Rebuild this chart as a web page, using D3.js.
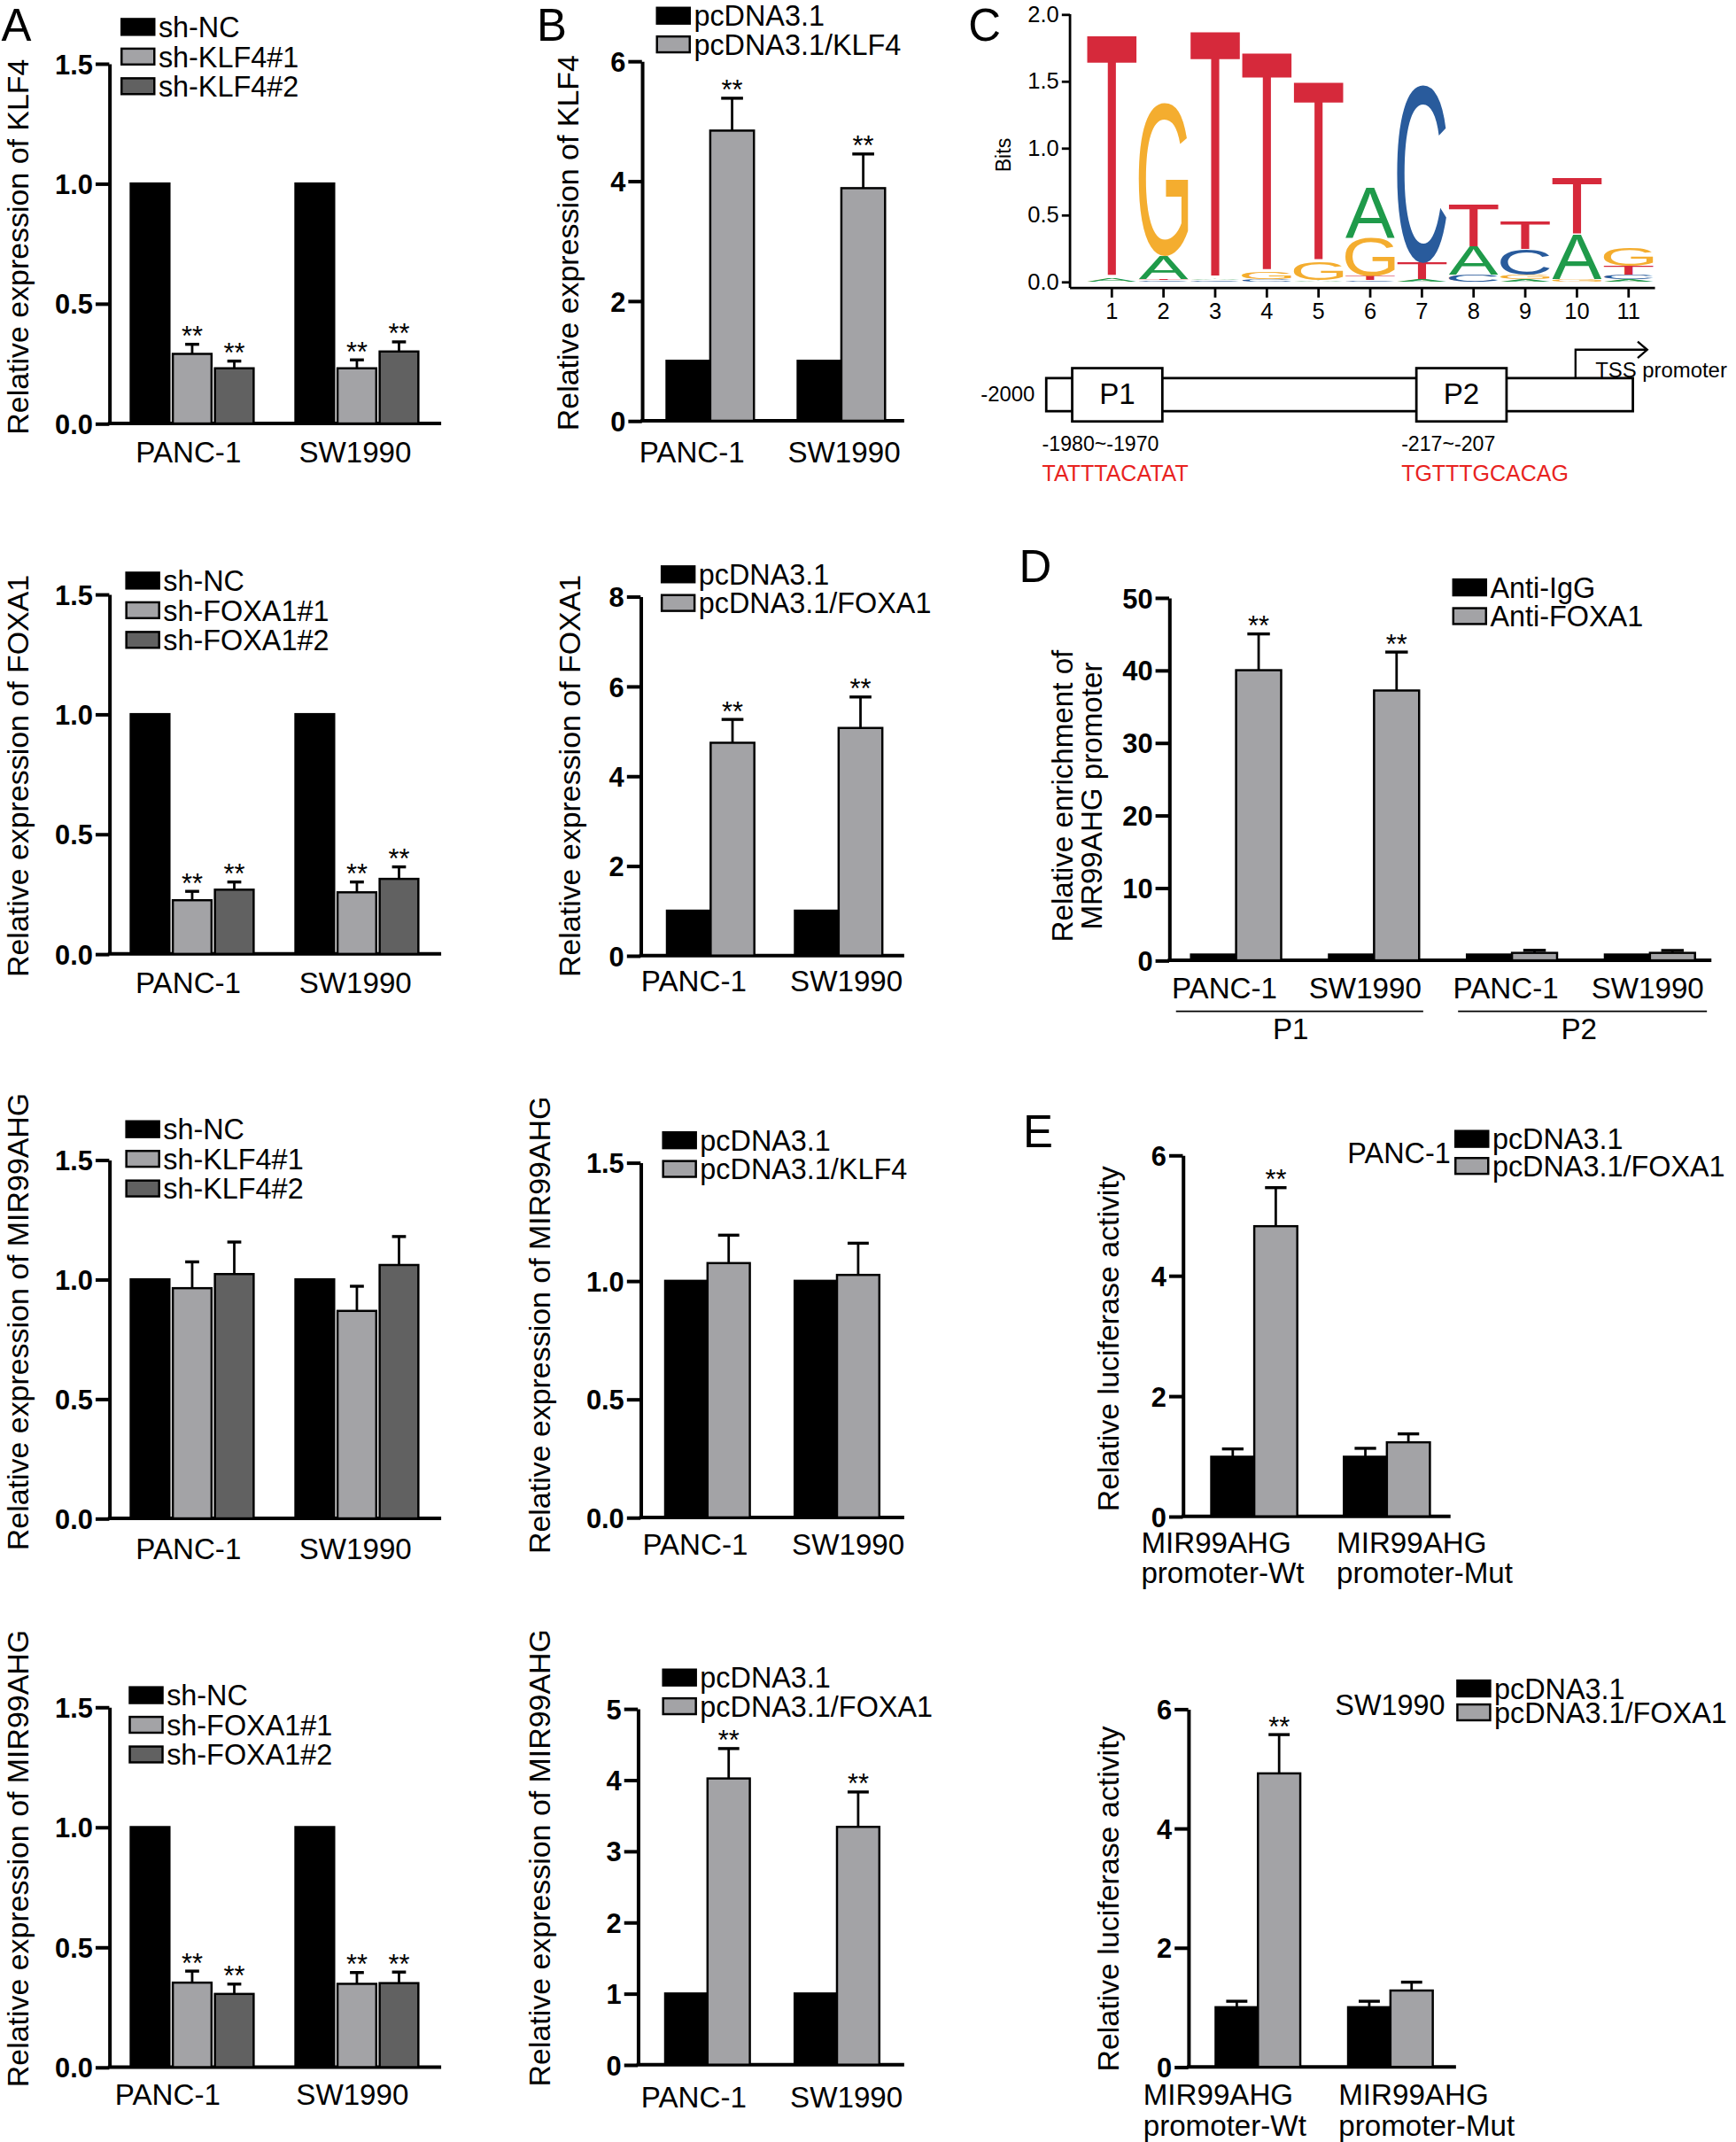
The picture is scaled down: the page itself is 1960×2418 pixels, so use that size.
<!DOCTYPE html>
<html><head><meta charset="utf-8">
<script src="https://cdn.jsdelivr.net/npm/d3@7"></script>
<style>body{margin:0;background:#fff}svg{display:block}</style>
</head><body><svg id="fig"></svg>
<script>
// ---------------- DATA ----------------
const cellLines = ["PANC-1", "SW1990"];
const seriesShKLF4 = ["sh-NC", "sh-KLF4#1", "sh-KLF4#2"];
const seriesShFOXA1 = ["sh-NC", "sh-FOXA1#1", "sh-FOXA1#2"];
const seriesOeKLF4 = ["pcDNA3.1", "pcDNA3.1/KLF4"];
const seriesOeFOXA1 = ["pcDNA3.1", "pcDNA3.1/FOXA1"];

const klf4ShVals = [[1, 0.29, 0.23], [1, 0.23, 0.30]];
const klf4ShErr  = [[0, 0.04, 0.03], [0, 0.035, 0.04]];
const klf4OeVals = [[1, 4.84], [1, 3.88]];
const klf4OeErr  = [[0, 0.54], [0, 0.57]];
const foxa1ShVals = [[1, 0.224, 0.268], [1, 0.257, 0.313]];
const foxa1ShErr  = [[0, 0.037, 0.032], [0, 0.043, 0.05]];
const foxa1OeVals = [[1, 4.74], [1, 5.07]];
const foxa1OeErr  = [[0, 0.52], [0, 0.69]];
const mirShKLF4Vals = [[1, 0.963, 1.022], [1, 0.868, 1.06]];
const mirShKLF4Err  = [[0, 0.11, 0.134], [0, 0.103, 0.119]];
const mirOeKLF4Vals = [[1, 1.075], [1, 1.025]];
const mirOeKLF4Err  = [[0, 0.118], [0, 0.134]];
const mirShFOXA1Vals = [[1, 0.352, 0.305], [1, 0.347, 0.35]];
const mirShFOXA1Err  = [[0, 0.048, 0.041], [0, 0.047, 0.046]];
const mirOeFOXA1Vals = [[1, 4.02], [1, 3.34]];
const mirOeFOXA1Err  = [[0, 0.42], [0, 0.49]];

const starsSh = [[false, true, true], [false, true, true]];
const starsOe = [[false, true], [false, true]];
const starsNone3 = [[false, false, false], [false, false, false]];
const starsNone2 = [[false, false], [false, false]];

const ticks15 = [0, 0.5, 1.0, 1.5];
const ticks6 = [0, 2, 4, 6];
const ticks8 = [0, 2, 4, 6, 8];
const ticks5 = [0, 1, 2, 3, 4, 5];
const ticks50 = [0, 10, 20, 30, 40, 50];

// ChIP (panel D)
const chipCells = ["PANC-1", "SW1990", "PANC-1", "SW1990"];
const chipRegions = ["P1", "P2"];
const chipSeries = ["Anti-IgG", "Anti-FOXA1"];
const chipVals = [[0.8, 40.0], [0.8, 37.2], [0.8, 1.03], [0.8, 1.03]];
const chipErr  = [[0, 5.0], [0, 5.3], [0, 0.35], [0, 0.33]];
const chipStars = [[false, true], [false, true], [false, false], [false, false]];

// Luciferase (panel E)
const lucGroups = [["MIR99AHG", "promoter-Wt"], ["MIR99AHG", "promoter-Mut"]];
const lucSeries = ["pcDNA3.1", "pcDNA3.1/FOXA1"];
const lucPancVals = [[0.99, 4.82], [0.99, 1.23]];
const lucPancErr  = [[0.13, 0.64], [0.14, 0.14]];
const lucSwVals = [[1.0, 4.92], [1.0, 1.28]];
const lucSwErr  = [[0.1, 0.65], [0.1, 0.14]];
const lucStars = [[false, true], [false, false]];

// Sequence logo (panel C): bottom-to-top stacks [letter, bits]
const logoPositions = ["1","2","3","4","5","6","7","8","9","10","11"];
const logoStacks = [
  [["A", 0.025], ["T", 1.815]],
  [["C", 0.01], ["T", 0.01], ["A", 0.17], ["G", 1.14]],
  [["C", 0.01], ["A", 0.01], ["T", 1.85]],
  [["C", 0.02], ["G", 0.05], ["T", 1.64]],
  [["A", 0.01], ["G", 0.14], ["T", 1.34]],
  [["C", 0.01], ["T", 0.03], ["G", 0.29], ["A", 0.37]],
  [["A", 0.015], ["T", 0.125], ["C", 1.33]],
  [["C", 0.05], ["A", 0.21], ["T", 0.32]],
  [["A", 0.02], ["G", 0.03], ["C", 0.19], ["T", 0.21]],
  [["G", 0.02], ["A", 0.33], ["T", 0.42]],
  [["A", 0.02], ["C", 0.03], ["T", 0.07], ["G", 0.14]]
];
const logoTicks = [0, 0.5, 1.0, 1.5, 2.0];
const promoterSites = [
  {name: "P1", start: -1980, range: "-1980~-1970", seq: "TATTTACATAT"},
  {name: "P2", start: -217, range: "-217~-207", seq: "TGTTTGCACAG"}
];

// ---------------- STYLE ----------------
const FONT = "'Liberation Sans', Arial, Helvetica, sans-serif";
const C_BLACK = "#000", C_LIGHT = "#a3a3a6", C_DARK = "#616161";
const logoColors = {A: "#1f9a4a", C: "#295b9c", G: "#f4ad2f", T: "#d6293b"};
const AX_W = 2.6;

const svg = d3.select("#fig")
  .attr("width", 1960).attr("height", 2418)
  .attr("viewBox", "0 0 1271 1568")
  .style("font-family", FONT);
svg.append("rect").attr("width", 1271).attr("height", 1568).attr("fill", "#fff");

function txt(g, x, y, s, size, opt = {}) {
  const t = g.append("text").attr("x", x).attr("y", y).text(s)
    .attr("font-size", size).attr("fill", opt.fill || "#000")
    .attr("text-anchor", opt.anchor || "start");
  if (opt.bold) t.attr("font-weight", "bold");
  if (opt.rotate) t.attr("transform", `rotate(-90,${x},${y})`);
  return t;
}

function barPanel(o) {
  const g = svg.append("g");
  const nG = o.vals.length, nS = o.vals[0].length;
  const y = d3.scaleLinear().domain([0, o.max]).range([o.y0, o.yTop]);
  const xc = d3.scalePoint().domain(d3.range(nG)).range(o.centers);
  const xi = d3.scaleBand().domain(d3.range(nS)).range([-o.gw / 2, o.gw / 2]).paddingInner(o.pad || 0);
  const bw = xi.bandwidth();
  const colors = o.colors;
  const capHalf = bw * (o.capFrac || 0.5) / 2;

  // y axis
  const ax = g.append("g").attr("transform", `translate(${o.axisX},0)`)
    .call(d3.axisLeft(y).tickValues(o.ticks).tickSize(10).tickSizeOuter(0).tickPadding(2).tickFormat(o.fmt));
  ax.select(".domain").attr("stroke-width", AX_W);
  ax.selectAll(".tick line").attr("stroke-width", AX_W);
  ax.selectAll(".tick text").attr("font-size", 20).attr("font-weight", "bold").attr("font-family", FONT)
    .attr("fill", "#000").attr("dy", "0.36em");
  // x baseline
  g.append("line").attr("x1", o.axisX - 1).attr("x2", o.xEnd).attr("y1", o.y0).attr("y2", o.y0)
    .attr("stroke", "#000").attr("stroke-width", AX_W);

  // bars
  const flat = [];
  o.vals.forEach((row, gi) => row.forEach((v, si) => flat.push({gi, si, v, e: o.errs[gi][si], s: o.stars[gi][si]})));
  const cx = d => xc(d.gi) + xi(d.si) + bw / 2;
  g.selectAll("rect.bar").data(flat).join("rect").attr("class", "bar")
    .attr("x", d => xc(d.gi) + xi(d.si)).attr("width", bw)
    .attr("y", d => y(d.v)).attr("height", d => y(0) - y(d.v))
    .attr("fill", d => colors[d.si]).attr("stroke", "#000").attr("stroke-width", 1.6);
  // error bars (upper only)
  const eb = flat.filter(d => d.e > 0);
  g.selectAll("line.eb").data(eb).join("line").attr("class", "eb")
    .attr("x1", cx).attr("x2", cx)
    .attr("y1", d => y(d.v)).attr("y2", d => y(d.v + d.e)).attr("stroke", "#000").attr("stroke-width", 1.8);
  g.selectAll("line.cap").data(eb).join("line").attr("class", "cap")
    .attr("x1", d => cx(d) - capHalf).attr("x2", d => cx(d) + capHalf)
    .attr("y1", d => y(d.v + d.e)).attr("y2", d => y(d.v + d.e)).attr("stroke", "#000").attr("stroke-width", 2.2);
  g.selectAll("text.star").data(flat.filter(d => d.s)).join("text").attr("class", "star")
    .attr("x", cx).attr("y", d => y(d.v + d.e) + 1)
    .attr("text-anchor", "middle").attr("font-size", 20).text("**");

  // category labels
  o.labels.forEach((lab, gi) => {
    const lines = Array.isArray(lab) ? lab : [lab];
    lines.forEach((s, li) => {
      txt(g, o.labelX[gi], o.labelY + li * (o.labelLH || 22), s, 21.5, {anchor: o.labelAnchor || "middle"});
    });
  });

  // legend
  o.series.forEach((s, si) => {
    const cy = o.legY + si * o.legRH;
    g.append("rect").attr("x", o.legX).attr("y", cy - 5.8).attr("width", o.legW || 24).attr("height", 11.6)
      .attr("fill", colors[si]).attr("stroke", "#000").attr("stroke-width", 1.6);
    txt(g, o.legX + (o.legW || 24) + 3, cy + 7.6, s, 21);
  });

  // y title
  const tl = Array.isArray(o.title) ? o.title : [o.title];
  tl.forEach((s, i) => txt(g, o.titleX + i * 22, o.titleY, s, o.titleSize || 22, {anchor: "middle", rotate: true}));
  return {g, y, xc, xi};
}

const f1 = d3.format(".1f"), f0 = d3.format("d");
const col3 = [C_BLACK, C_LIGHT, C_DARK], col2 = [C_BLACK, C_LIGHT];

// Panel letters
txt(svg, 1, 30, "A", 33);
txt(svg, 393, 30, "B", 33);
txt(svg, 709, 30, "C", 33);
txt(svg, 746, 426, "D", 33);
txt(svg, 749, 840, "E", 33);

// ---- A column ----
const aBase = {axisX: 80, xEnd: 323, max: 1.5, ticks: ticks15, fmt: f1, gw: 90, pad: 0.08, capFrac: 0.36,
  colors: col3, labels: cellLines, legRH: 21.7, titleX: 20.5, centers: [140.7, 261.3]};
barPanel({...aBase, yTop: 46.5, y0: 310, vals: klf4ShVals, errs: klf4ShErr, stars: starsSh,
  series: seriesShKLF4, legX: 89, legY: 19.7, labelX: [138, 260], labelY: 338.7,
  title: "Relative expression of KLF4", titleY: 180.7});
barPanel({...aBase, yTop: 435, y0: 698.3, vals: foxa1ShVals, errs: foxa1ShErr, stars: starsSh,
  series: seriesShFOXA1, legX: 92.5, legY: 425, labelX: [137.8, 260.2], labelY: 726.7,
  title: "Relative expression of FOXA1", titleY: 568});
barPanel({...aBase, yTop: 849, y0: 1111.5, vals: mirShKLF4Vals, errs: mirShKLF4Err, stars: starsNone3,
  series: seriesShKLF4, legX: 92.5, legY: 826.6, labelX: [138, 260.2], labelY: 1141,
  title: "Relative expression of MIR99AHG", titleY: 967.5});
barPanel({...aBase, yTop: 1249.6, y0: 1513.2, vals: mirShFOXA1Vals, errs: mirShFOXA1Err, stars: starsSh,
  series: seriesShFOXA1, legX: 95, legY: 1240.9, labelX: [122.8, 258], labelY: 1540.5,
  title: "Relative expression of MIR99AHG", titleY: 1360.5});

// ---- B column ----
const bBase = {fmt: f0, pad: 0, colors: col2, labels: cellLines, legRH: 21, xEnd: 662};
barPanel({...bBase, axisX: 470, max: 6, yTop: 44.7, y0: 308, ticks: ticks6, centers: [520, 616], gw: 64,
  vals: klf4OeVals, errs: klf4OeErr, stars: starsOe, series: seriesOeKLF4, legX: 481, legY: 11.5,
  labelX: [506.6, 618], labelY: 338.7, title: "Relative expression of KLF4", titleX: 423.7, titleY: 177.8});
barPanel({...bBase, axisX: 469, max: 8, yTop: 436.6, y0: 699.5, ticks: ticks8, centers: [520.3, 614], gw: 64,
  vals: foxa1OeVals, errs: foxa1OeErr, stars: starsOe, series: seriesOeFOXA1, legX: 484.5, legY: 420.4,
  labelX: [508, 619.7], labelY: 725.7, title: "Relative expression of FOXA1", titleX: 425, titleY: 568});
barPanel({...bBase, axisX: 469, max: 1.5, fmt: f1, yTop: 851, y0: 1110.8, ticks: ticks15, centers: [518, 612.8], gw: 62,
  vals: mirOeKLF4Vals, errs: mirOeKLF4Err, stars: starsNone2, series: seriesOeKLF4, legX: 485.5, legY: 834.7,
  labelX: [509, 621], labelY: 1138, title: "Relative expression of MIR99AHG", titleX: 403, titleY: 970});
barPanel({...bBase, axisX: 467, max: 5, yTop: 1250.8, y0: 1511.4, ticks: ticks5, centers: [518, 612.8], gw: 62,
  vals: mirOeFOXA1Vals, errs: mirOeFOXA1Err, stars: starsOe, series: seriesOeFOXA1, legX: 485.5, legY: 1228,
  labelX: [508, 619.7], labelY: 1542.7, title: "Relative expression of MIR99AHG", titleX: 403, titleY: 1360});

// ---- D ----
const dp = barPanel({axisX: 856, xEnd: 1253, max: 50, fmt: f0, yTop: 437.5, y0: 703, ticks: ticks50,
  centers: [905, 1208], gw: 66, pad: 0, colors: col2, vals: chipVals, errs: chipErr, stars: chipStars,
  labels: chipCells, labelY: 730.7, labelX: [896.5, 999.5, 1102.5, 1206.3], series: chipSeries,
  legX: 1064, legY: 430, legRH: 21,
  title: ["Relative enrichment of", "MR99AHG promoter"], titleX: 785, titleY: 582.7, titleSize: 21.5});
const regionSpans = [[861, 1042], [1067.5, 1249.7]];
chipRegions.forEach((r, i) => {
  dp.g.append("line").attr("x1", regionSpans[i][0]).attr("x2", regionSpans[i][1]).attr("y1", 740.3).attr("y2", 740.3)
    .attr("stroke", "#000").attr("stroke-width", 1.2);
  txt(dp.g, [945, 1156][i], 760.4, r, 21.5, {anchor: "middle"});
});

// ---- E ----
const ep = barPanel({axisX: 866, xEnd: 1062, max: 6, fmt: f0, yTop: 845.6, y0: 1110, ticks: ticks6,
  centers: [918.3, 1015.4], gw: 63, pad: 0, colors: col2, vals: lucPancVals, errs: lucPancErr, stars: lucStars,
  labels: lucGroups, labelY: 1136.7, labelLH: 22, labelAnchor: "start", labelX: [835.5, 978.6],
  series: lucSeries, legX: 1065.6, legY: 833.7, legRH: 19.8, title: "Relative luciferase activity", titleX: 818.7, titleY: 980});
txt(ep.g, 1062, 851.3, "PANC-1", 21, {anchor: "end"});
const ep2 = barPanel({axisX: 870, xEnd: 1066, max: 6, fmt: f0, yTop: 1251, y0: 1513, ticks: ticks6,
  centers: [921, 1018], gw: 62, pad: 0, colors: col2, vals: lucSwVals, errs: lucSwErr, stars: lucStars,
  labels: lucGroups, labelY: 1540.7, labelLH: 23, labelAnchor: "start", labelX: [837, 980],
  series: lucSeries, legX: 1067, legY: 1236, legRH: 17.5, title: "Relative luciferase activity", titleX: 818.7, titleY: 1390});
txt(ep2.g, 1058, 1255.5, "SW1990", 21, {anchor: "end"});

// ---- C: sequence logo ----
(function () {
  const g = svg.append("g");
  const yL = d3.scaleLinear().domain([0, 2]).range([206.2, 10.4]);
  const xL = d3.scaleBand().domain(logoPositions).range([795.1, 1211.3]).paddingInner(0.04).paddingOuter(0.02);
  const axX = 783.4, axY = 210.8;
  const ay = g.append("g").attr("transform", `translate(${axX},0)`)
    .call(d3.axisLeft(yL).tickValues(logoTicks).tickSize(6).tickSizeOuter(0).tickPadding(2).tickFormat(f1));
  ay.select(".domain").remove();
  g.append("line").attr("x1", axX).attr("x2", axX).attr("y1", yL(2)).attr("y2", axY).attr("stroke", "#000").attr("stroke-width", 1.8);
  ay.selectAll(".tick line").attr("stroke-width", 1.8);
  ay.selectAll(".tick text").attr("font-size", 16.5).attr("font-family", FONT).attr("fill", "#000");
  const ax = g.append("g").attr("transform", `translate(0,${axY})`)
    .call(d3.axisBottom(xL).tickSize(7).tickSizeOuter(0).tickPadding(4));
  ax.select(".domain").remove();
  g.append("line").attr("x1", axX).attr("x2", 1211.7).attr("y1", axY).attr("y2", axY).attr("stroke", "#000").attr("stroke-width", 1.8);
  ax.selectAll(".tick line").attr("stroke-width", 1.8);
  ax.selectAll(".tick text").attr("font-size", 16.5).attr("font-family", FONT).attr("fill", "#000");
  txt(g, 740, 113.5, "Bits", 15, {anchor: "middle", rotate: true});

  const ctx = document.createElement("canvas").getContext("2d");
  ctx.font = "100px 'Liberation Sans'";
  const met = {};
  ["A", "C", "G", "T"].forEach(L => {
    const m = ctx.measureText(L);
    met[L] = {l: m.actualBoundingBoxLeft, r: m.actualBoundingBoxRight, a: m.actualBoundingBoxAscent, d: m.actualBoundingBoxDescent};
  });
  const w = xL.bandwidth();
  logoStacks.forEach((stack, i) => {
    let base = 0;
    const x0 = xL(logoPositions[i]);
    stack.forEach(([L, h]) => {
      const top = yL(base + h), bot = yL(base);
      const m = met[L];
      const sx = w / (m.l + m.r), sy = (bot - top) / (m.a + m.d);
      g.append("text").text(L).attr("font-size", 100).attr("font-family", "'Liberation Sans'")
        .attr("fill", logoColors[L])
        .attr("transform", `translate(${x0},${top}) scale(${sx},${sy}) translate(${m.l},${m.a})`);
      base += h;
    });
  });

  // promoter diagram
  const pg = svg.append("g").attr("fill", "none");
  const pScale = d3.scaleLinear().domain([-2000, 0]).range([766, 1195.5]);
  pg.append("rect").attr("x", pScale(-2000)).attr("y", 276.8).attr("width", pScale(0) - pScale(-2000)).attr("height", 24.2)
    .attr("fill", "#fff").attr("stroke", "#000").attr("stroke-width", 1.8);
  const boxX = [785, 1037];
  const textX = [763, 1026];
  promoterSites.forEach((s, i) => {
    pg.append("rect").attr("x", boxX[i]).attr("y", 269.5).attr("width", 66).attr("height", 39)
      .attr("fill", "#fff").attr("stroke", "#000").attr("stroke-width", 1.8);
    txt(svg, boxX[i] + 33, 296, s.name, 21.5, {anchor: "middle"});
    txt(svg, textX[i], 329.8, s.range, 15);
    txt(svg, textX[i], 352, s.seq, 16.2, {fill: "#e8231f"});
  });
  txt(svg, 757.6, 294, "-2000", 15.5, {anchor: "end"});
  pg.append("path").attr("d", "M1153.5,276.8V256H1206").attr("stroke", "#000").attr("stroke-width", 1.5);
  pg.append("path").attr("d", "M1199,250L1206,256L1199,262").attr("stroke", "#000").attr("stroke-width", 1.5);
  txt(svg, 1168, 276, "TSS promoter", 15.5);
})();
</script></body></html>
